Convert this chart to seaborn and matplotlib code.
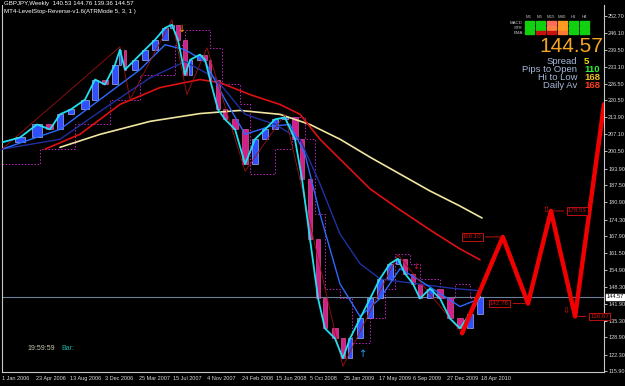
import matplotlib
matplotlib.use("Agg")
import matplotlib.pyplot as plt
import seaborn as sns
import pandas as pd
from matplotlib.patches import Rectangle
import matplotlib.transforms as mtransforms

# ---------------- data ----------------
# x axis = week index from 1 Jan 2006
price_weeks = [0, 8.4, 16.4, 22.4, 27.1, 32.2, 38.8, 43.5, 48.1, 52.8, 55.1, 57.5, 62.1, 66.8,
               71.5, 76.2, 79.4, 82.2, 85.5, 87.9, 92.5, 94.9, 97.2, 100.9, 104.2, 108.9, 113.6,
               118.2, 122.9, 127.6, 132.2, 136.9, 140.2, 143.9, 147.7, 150.9, 155.6, 159.3, 162.6,
               167.3, 172.0, 176.6, 181.3, 185.0, 188.3, 192.0, 195.3, 200.0, 204.7, 209.3, 214.0,
               218.7, 223.4]
price_close = [204.0, 205.9, 210.9, 209.0, 214.8, 216.7, 220.5, 228.2, 226.3, 233.9, 239.7, 232.0,
               235.8, 239.7, 243.5, 248.1, 249.3, 243.5, 230.1, 235.8, 237.8, 235.8, 228.2, 216.7,
               212.9, 209.0, 195.6, 205.2, 209.0, 212.9, 213.6, 205.2, 189.9, 166.9, 143.9, 132.4,
               128.5, 120.9, 128.5, 136.2, 143.9, 151.5, 157.3, 159.2, 153.5, 149.6, 143.9, 147.7,
               143.9, 136.2, 132.4, 138.1, 144.57]

blue_weeks = [0, 27.1, 45.8, 64.5, 76.2, 85.5, 94.9, 104.2, 113.6, 125.2, 134.6, 141.6, 148.6,
              157.9, 167.3, 176.6, 186.0, 195.3, 204.7, 214.0, 223.4]
blue_vals = [201.4, 209.0, 220.5, 232.0, 241.6, 239.7, 235.1, 220.5, 207.1, 210.2, 210.9, 199.4,
             176.4, 149.6, 137.0, 143.9, 155.4, 150.8, 145.8, 140.8, 143.9]

navy_weeks = [0, 27.1, 50.5, 69.2, 85.5, 99.5, 113.6, 127.6, 139.3, 148.6, 157.9, 167.3, 176.6,
              186.0, 200.0, 211.7, 223.4]
navy_vals = [201.4, 205.2, 218.6, 228.9, 235.1, 228.9, 214.8, 210.9, 205.2, 188.0, 168.8, 157.3,
             151.5, 150.4, 148.9, 147.7, 146.9]

red_weeks = [20.1, 36.4, 55.1, 73.8, 92.5, 101.9, 115.9, 129.9, 139.3, 148.6, 158.0, 172.0,
             186.0, 200.0, 214.0, 223.4]
red_vals = [201.4, 207.1, 218.6, 225.1, 228.2, 227.0, 222.4, 218.6, 214.8, 205.2, 197.5, 186.1,
            178.0, 170.3, 163.0, 158.8]

cream_weeks = [27.1, 45.8, 69.2, 92.5, 111.2, 129.9, 143.9, 158.0, 172.0, 186.0, 200.0, 214.0, 224.3]
cream_vals = [202.1, 207.1, 212.1, 215.1, 216.3, 214.8, 210.9, 205.2, 198.3, 191.8, 185.3, 179.5, 174.9]

stop_weeks = [0, 17.8, 34.1, 50.5, 64.5, 80.8, 85.5, 97.2, 102.8, 111.2, 115.9, 127.6, 135.5,
              141.6, 146.3, 150.9, 158.0, 163.6, 172.0, 179.0, 183.6, 190.7, 195.3, 204.7, 211.7,
              218.7, 224.3]
stop_vals = [195.6, 201.4, 210.9, 220.5, 230.1, 241.6, 247.3, 240.4, 226.3, 218.6, 191.8, 201.4,
             213.6, 205.2, 176.4, 147.7, 143.9, 126.6, 136.2, 147.7, 161.1, 157.3, 151.5, 143.9,
             149.6, 143.9, 143.9]

zz_weeks = [0, 55.1, 59.8, 79.4, 86.4, 95.8, 113.6, 132.2, 159.3, 185.0, 215.0]
zz_vals = [201.4, 240.8, 220.5, 251.2, 222.4, 240.4, 192.9, 214.8, 117.8, 160.7, 130.5]

proj_weeks = [215.0, 234.0, 245.8, 256.5, 267.8, 281.3]
proj_vals = [130.5, 167.6, 141.95, 177.6, 137.0, 218.6]
proj_labels = ["", "166.10", "142.78", "178.53", "136.67", ""]

current_price = 144.57

y_ticks = [252.70, 246.10, 239.50, 233.10, 226.50, 220.50, 213.90, 207.10, 200.50, 193.90,
           187.50, 180.90, 174.30, 167.90, 161.50, 154.90, 148.30, 141.90, 135.30, 128.90,
           122.30, 115.90]
x_tick_weeks = [0, 16, 32, 48, 64, 80, 96, 112, 128, 144, 160, 176, 192, 208, 224]
x_tick_labels = ["1 Jan 2006", "23 Apr 2006", "13 Aug 2006", "3 Dec 2006", "25 Mar 2007",
                 "15 Jul 2007", "4 Nov 2007", "24 Feb 2008", "15 Jun 2008", "5 Oct 2008",
                 "25 Jan 2009", "17 May 2009", "6 Sep 2009", "27 Dec 2009", "18 Apr 2010"]

panel_cols = ["M1", "M5", "M15", "M30", "H1", "H4"]
panel_rows = ["MACD", "STR", "EMA"]
panel_colors = [
    ["#10d010", "#10d010", "#ff6a5a", "#ff9a20", "#10d010", "#10d010"],
    ["#10d010", "#10d010", "#ff8040", "#ff9a20", "#10d010", "#10d010"],
    ["#10d010", "#c81010", "#c81010", "#ff7a30", "#10d010", "#10d010"],
]
info_labels = ["Spread", "Pips to Open", "Hi to Low", "Daily Av"]
info_values = ["5", "110", "168", "168"]
info_colors = ["#f0e000", "#30f030", "#f0c020", "#ff4020"]

# ---------------- figure ----------------
sns.set_theme(style="dark", rc={"axes.facecolor": "black", "figure.facecolor": "black"})
SANS = ["Liberation Sans", "DejaVu Sans"]
plt.rcParams["font.family"] = SANS

W, H = 625, 386
fig = plt.figure(figsize=(W / 100, H / 100), dpi=100)
ax = fig.add_axes([2 / W, 14 / H, 602 / W, 367 / H])
ax.set_facecolor("black")
ax.set_xlim(0, 281.3)
ax.set_ylim(115.6, 256.9)

# candle bodies from consecutive closes
for i in range(1, len(price_weeks)):
    o, c = price_close[i - 1], price_close[i]
    wdt = 0.55 * (price_weeks[i] - price_weeks[i - 1])
    up = c >= o
    ax.bar(price_weeks[i], c - o, bottom=o, width=wdt, color="#3050ff" if up else "#d0208a",
           edgecolor="#c8d0ff" if up else "#ff60b0", linewidth=0.4, zorder=2)

df_stop = pd.DataFrame({"w": stop_weeks, "v": stop_vals})
ax.step(df_stop["w"], df_stop["v"], where="post", color="#c020c0", lw=0.7, ls=(0, (1.5, 1.8)), zorder=2)

sns.lineplot(x=cream_weeks, y=cream_vals, ax=ax, color="#f0e6a0", lw=1.2, zorder=3)
sns.lineplot(x=red_weeks, y=red_vals, ax=ax, color="#e01010", lw=1.2, zorder=3)
sns.lineplot(x=navy_weeks, y=navy_vals, ax=ax, color="#2030a0", lw=1.0, zorder=3)
sns.lineplot(x=blue_weeks, y=blue_vals, ax=ax, color="#2a6aff", lw=1.0, zorder=3)
sns.lineplot(x=price_weeks, y=price_close, ax=ax, color="#20e0f0", lw=1.3, zorder=4)
sns.lineplot(x=zz_weeks, y=zz_vals, ax=ax, color="#a01010", lw=0.6, zorder=3)
sns.lineplot(x=proj_weeks, y=proj_vals, ax=ax, color="#f00000", lw=3.2, zorder=5)

ax.axhline(current_price, color="#6a7f9a", lw=0.8, zorder=1)

# projection labels
offsets = [None, (-10, 0), (-9, 0), (8, 0), (7, 0), None]
for wk, v, lab, off in zip(proj_weeks, proj_vals, proj_labels, offsets):
    if not lab:
        continue
    dx, dy = off
    ha = "right" if dx < 0 else "left"
    ax.annotate(lab, xy=(wk, v), xytext=(wk + dx, v + dy), ha=ha, va="center",
                fontsize=4.4, color="#d01010",
                bbox=dict(boxstyle="square,pad=0.2", fc="black", ec="#c01010", lw=0.7),
                arrowprops=dict(arrowstyle="-", color="#c01010", lw=0.7), zorder=6)

# arrows
ax.text(84.2, 247.5, "↓", color="#ff9900", fontsize=7, ha="center", va="center", zorder=6,
        family=["DejaVu Sans"])
ax.text(168.7, 122.6, "↑", color="#20a0ff", fontsize=7, ha="center", va="center", zorder=6,
        family=["DejaVu Sans"])
ax.text(193.5, 156.4, "↓", color="#e01010", fontsize=6, ha="center", va="center", zorder=6,
        family=["DejaVu Sans"])
ax.text(254.2, 178.2, "⇧", color="#e01010", fontsize=6, ha="center", va="center", zorder=6,
        family=["DejaVu Sans"])
ax.text(263.4, 139.0, "⇩", color="#e01010", fontsize=6, ha="center", va="center", zorder=6,
        family=["DejaVu Sans"])

# axes styling
for s in ax.spines.values():
    s.set_color("#c8c8c8")
    s.set_linewidth(0.8)
ax.spines["top"].set_visible(False)
ax.grid(False)
ax.yaxis.tick_right()
ax.set_yticks(y_ticks)
ax.set_yticklabels([f"{v:.2f}" for v in y_ticks])
ax.set_xticks(x_tick_weeks)
ax.set_xticklabels(x_tick_labels, ha="left")
ax.tick_params(axis="y", colors="#d8d8d8", labelsize=4.0, length=2, width=0.6, pad=1.0)
ax.tick_params(axis="x", colors="#d8d8d8", labelsize=4.0, length=2, width=0.6, pad=1.0)
ax.set_xlabel("")
ax.set_ylabel("")

trans = mtransforms.blended_transform_factory(ax.transAxes, ax.transData)
ax.text(1.004, current_price, f"{current_price:.2f}", transform=trans, fontsize=4.0, color="black",
        ha="left", va="center", bbox=dict(boxstyle="square,pad=0.12", fc="white", ec="white"), zorder=10,
        clip_on=False)

# titles
fig.text(4 / W, 1 - 4 / H, "GBPJPY,Weekly  140.53 144.76 139.36 144.57", color="white", fontsize=4.4,
         ha="left", va="center")
fig.text(4 / W, 1 - 11 / H, "MT4-LevelStop-Reverse-v1.6(ATRMode 5, 3, 1 )", color="white", fontsize=4.4,
         ha="left", va="center")

# info panel
col_x = [529, 540, 551, 562, 573, 584]
row_y = [23, 28, 32.5]
for j, name in enumerate(panel_cols):
    fig.text(col_x[j] / W, 1 - 17 / H, name, color="#c0c0c0", fontsize=3.2, ha="center", va="center")
for i, rname in enumerate(panel_rows):
    fig.text(523 / W, 1 - row_y[i] / H, rname, color="#c0c0c0", fontsize=3.2, ha="right", va="center")
    for j in range(len(panel_cols)):
        fig.patches.append(Rectangle(((col_x[j] - 4.5) / W, 1 - (row_y[i] + 1.8) / H), 9 / W, 3.4 / H,
                                     transform=fig.transFigure, color=panel_colors[i][j], figure=fig))

fig.text(571 / W, 1 - 46 / H, "144.57", color="#f5a623", fontsize=15, ha="center", va="center")
info_y = [61, 69, 77, 85]
for lab, val, colr, yy in zip(info_labels, info_values, info_colors, info_y):
    fig.text(577 / W, 1 - yy / H, lab, color="#a8b8d8", fontsize=6.8, ha="right", va="center")
    fig.text(584 / W, 1 - yy / H, val, color=colr, fontsize=6.8, ha="left", va="center", weight="bold")

fig.text(27 / W, 1 - 349 / H, "19:59:59", color="#c8c8b0", fontsize=5.0, ha="left", va="center")
fig.text(61 / W, 1 - 349 / H, "Bar:", color="#20b0a0", fontsize=5.0, ha="left", va="center")

fig.savefig("out.png", dpi=100, facecolor="black")
